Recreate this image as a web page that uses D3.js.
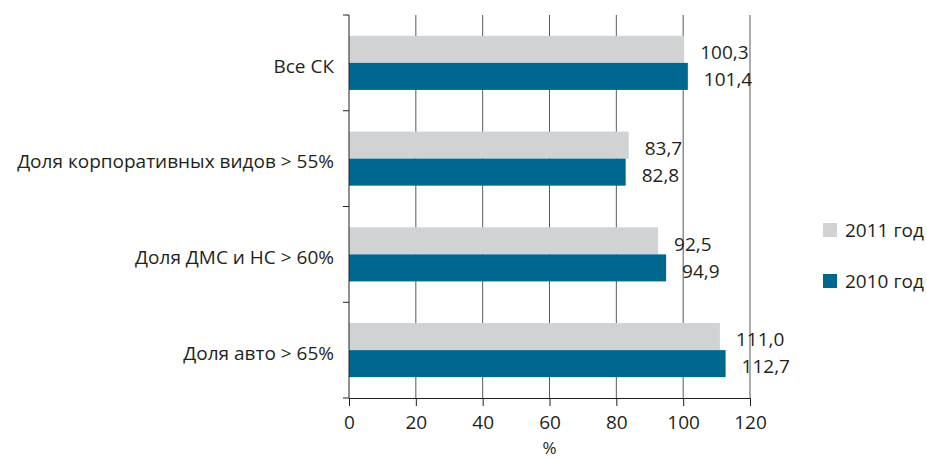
<!DOCTYPE html>
<html>
<head>
<meta charset="utf-8">
<script src="https://cdn.jsdelivr.net/npm/d3@7"></script>
<style>
  html, body { margin: 0; padding: 0; background: #fff; }
  svg text { font-family: "Open Sans", "Noto Sans", sans-serif; fill: #231f20; }
</style>
</head>
<body>
<svg id="chart" width="927" height="459"></svg>
<script>
// Categories (top to bottom) and yearly values, %
const categories = ["Все СК", "Доля корпоративных видов > 55%", "Доля ДМС и НС > 60%", "Доля авто > 65%"];
const values2011 = [100.3, 83.7, 92.5, 111.0];
const values2010 = [101.4, 82.8, 94.9, 112.7];
const seriesNames = ["2011 год", "2010 год"];
const xTicks = [0, 20, 40, 60, 80, 100, 120];
const axisTitle = "%";

const colors = { "2011 год": "#d1d2d4", "2010 год": "#00688f" };
const FS = 19;

const svg = d3.select("#chart");
const margin = { left: 349, right: 177, top: 15, bottom: 61 };
const W = 927, H = 459;
const plotW = W - margin.left - margin.right;
const plotH = H - margin.top - margin.bottom;

const g = svg.append("g").attr("transform", `translate(${margin.left},${margin.top})`);

const x = d3.scaleLinear().domain([0, 120]).range([0, plotW]);
const y = d3.scaleBand().domain(categories).range([0, plotH]).paddingInner(0).paddingOuter(0);
const inner = d3.scaleBand().domain(seriesNames).range([0, y.bandwidth()]).paddingOuter(0.77).paddingInner(0);

// vertical grid lines
g.append("g").selectAll("line").data(xTicks.slice(1)).join("line")
  .attr("x1", d => x(d)).attr("x2", d => x(d))
  .attr("y1", 0).attr("y2", plotH)
  .attr("stroke", "#58595b").attr("stroke-width", 1);

// bars
const rows = categories.map((c, i) => ({ cat: c, vals: [
  { s: seriesNames[0], v: values2011[i] },
  { s: seriesNames[1], v: values2010[i] }
]}));

const grp = g.append("g").selectAll("g").data(rows).join("g")
  .attr("transform", d => `translate(0,${y(d.cat)})`);

grp.selectAll("rect").data(d => d.vals).join("rect")
  .attr("x", 0)
  .attr("y", d => inner(d.s))
  .attr("width", d => x(d.v))
  .attr("height", inner.bandwidth())
  .attr("fill", d => colors[d.s]);

grp.selectAll("text.val").data(d => d.vals).join("text")
  .attr("class", "val")
  .attr("x", d => x(d.v) + 16)
  .attr("y", d => inner(d.s) + inner.bandwidth() / 2 + 3)
  .attr("dy", "0.36em")
  .attr("font-size", FS)
  .text(d => d3.format(".1f")(d.v).replace(".", ","));

// x axis
const xAxis = g.append("g").attr("transform", `translate(0,${plotH})`)
  .call(d3.axisBottom(x).tickValues(xTicks).tickSize(8).tickPadding(10).tickSizeOuter(0));
xAxis.select(".domain").attr("stroke", "#231f20");
xAxis.selectAll(".tick line").attr("stroke", "#231f20");
xAxis.selectAll("text").attr("font-size", FS).attr("fill", "#231f20")
  .style("font-family", '"Open Sans", "Noto Sans", sans-serif');

// y axis with ticks at category boundaries
const yAxisG = g.append("g");
yAxisG.append("line").attr("x1", 0).attr("x2", 0).attr("y1", 0).attr("y2", plotH).attr("stroke", "#231f20");
const bounds = categories.map(c => y(c)).concat([plotH]);
yAxisG.selectAll("line.tk").data(bounds).join("line").attr("class", "tk")
  .attr("x1", -6).attr("x2", 0).attr("y1", d => d).attr("y2", d => d).attr("stroke", "#231f20");

// category labels
g.append("g").selectAll("text").data(categories).join("text")
  .attr("x", -15)
  .attr("y", d => y(d) + y.bandwidth() / 2 + 3)
  .attr("dy", "0.36em")
  .attr("text-anchor", "end")
  .attr("font-size", FS)
  .text(d => d);

// axis title
svg.append("text").attr("x", margin.left + x(60)).attr("y", 454)
  .attr("text-anchor", "middle").attr("font-size", 17).text(axisTitle);

// legend
const leg = svg.append("g").attr("transform", "translate(823,223)");
const li = leg.selectAll("g").data(seriesNames).join("g")
  .attr("transform", (d, i) => `translate(0,${i * 51})`);
li.append("rect").attr("width", 14).attr("height", 14).attr("fill", d => colors[d]);
li.append("text").attr("x", 22).attr("y", 7).attr("dy", "0.36em").attr("font-size", FS).text(d => d);
</script>
</body>
</html>
